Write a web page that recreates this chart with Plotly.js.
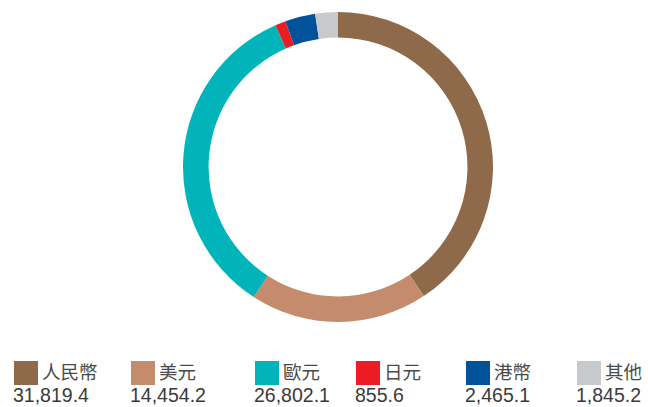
<!DOCTYPE html>
<html>
<head>
<meta charset="utf-8">
<script src="https://cdn.plot.ly/plotly-3.0.1.min.js"></script>
<style>html,body{margin:0;padding:0;background:#fff;}#chart{width:648px;height:407px;}</style>
</head>
<body>
<div id="chart"></div>
<script>
const categories = ["人民幣", "美元", "歐元", "日元", "港幣", "其他"];
const values = [31819.4, 14454.2, 26802.1, 855.6, 2465.1, 1845.2];
const valueLabels = ["31,819.4", "14,454.2", "26,802.1", "855.6", "2,465.1", "1,845.2"];
const colors = ["#8E6A4A", "#C48B6C", "#00B4BA", "#EC1C24", "#00529B", "#C8C9CB"];

// legend layout (pixels from left)
const legendX = [14, 131, 255, 356, 466, 577];
const W = 648, H = 407;
const fontFam = "'Liberation Sans', 'Noto Sans CJK TC', Arial, sans-serif";
const cjkFam = "'Liberation Sans', 'Noto Sans CJK TC', sans-serif";

const shapes = [];
const annotations = [];
categories.forEach((c, i) => {
  const x0 = legendX[i];
  shapes.push({type: "rect", xref: "paper", yref: "paper",
    x0: x0 / W, x1: (x0 + 24) / W, y0: 1 - 385 / H, y1: 1 - 361 / H,
    fillcolor: colors[i], line: {width: 0}});
  annotations.push({xref: "paper", yref: "paper", x: (x0 + 27) / W, y: 1 - 372 / H,
    xanchor: "left", yanchor: "middle", showarrow: false, text: c,
    borderpad: 0,
    font: {family: cjkFam, size: 18.5, color: "#4a4a4a"}});
  annotations.push({xref: "paper", yref: "paper", x: (x0 - 2) / W, y: 0,
    xanchor: "left", yanchor: "bottom", showarrow: false, text: valueLabels[i],
    borderpad: 0,
    font: {family: fontFam, size: 19.5, color: "#3a3a3a"}});
});

const cx = 338, cy = 167, r = 155;
const data = [{
  type: "pie",
  labels: categories,
  values: values,
  marker: {colors: colors, line: {width: 0}},
  hole: 0.835,
  sort: false,
  direction: "clockwise",
  rotation: 0,
  textinfo: "none",
  hoverinfo: "label+value",
  showlegend: false,
  domain: {x: [(cx - r) / W, (cx + r) / W], y: [1 - (cy + r) / H, 1 - (cy - r) / H]}
}];

const layout = {
  width: W, height: H,
  margin: {l: 0, r: 0, t: 0, b: 0},
  paper_bgcolor: "#fff",
  showlegend: false,
  shapes: shapes,
  annotations: annotations
};
Plotly.newPlot("chart", data, layout, {displayModeBar: false, staticPlot: true});
</script>
</body>
</html>
